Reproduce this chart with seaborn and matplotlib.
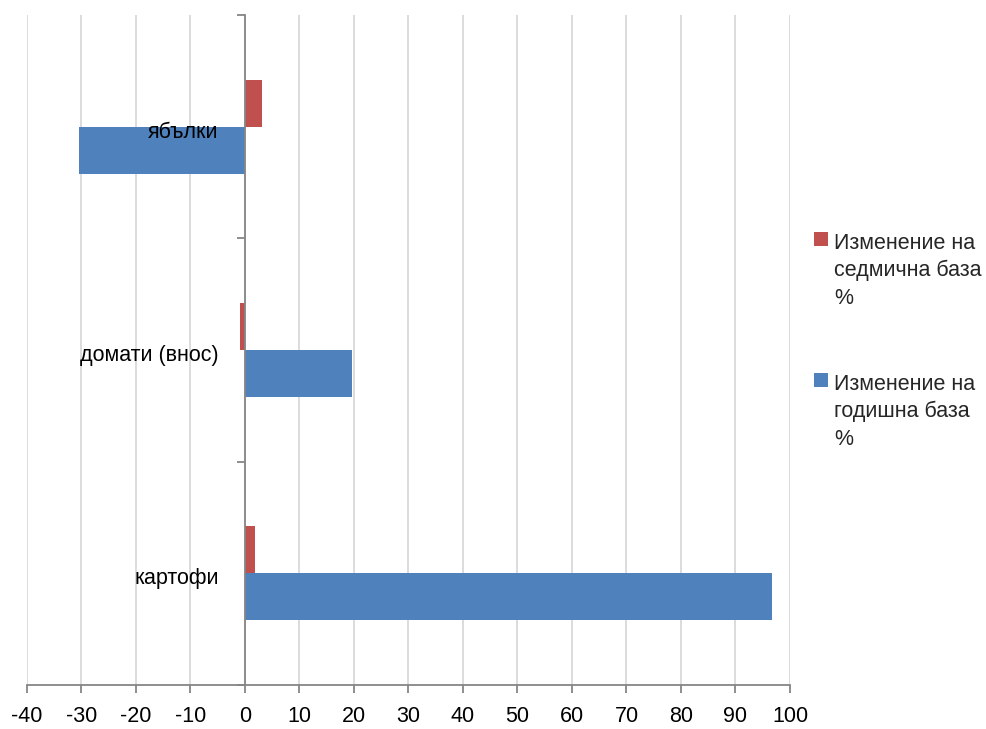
import matplotlib.pyplot as plt
import matplotlib.patches as mpatches
from matplotlib.transforms import offset_copy
import seaborn as sns
import pandas as pd

# Data
categories = ['ябълки', 'домати (внос)', 'картофи']
weekly = [3.1, -0.9, 1.8]      # Изменение на седмична база %
yearly = [-30.4, 19.7, 96.7]   # Изменение на годишна база %
weekly_label = 'Изменение на\nседмична база\n%'
yearly_label = 'Изменение на\nгодишна база\n%'
x_ticks = list(range(-40, 101, 10))

df = pd.DataFrame({
    'category': categories * 2,
    'value': weekly + yearly,
    'series': [weekly_label] * 3 + [yearly_label] * 3,
})

red = '#C0504D'
blue = '#4F81BD'
axis_col = '#868686'
grid_col = '#D9D9D9'

sns.set_theme(style='white')
plt.rcParams['font.family'] = ['Liberation Sans', 'DejaVu Sans']
fs = 15.5

fig = plt.figure(figsize=(9.87, 7.29), dpi=100)
ax = fig.add_axes([27 / 987, 1 - 685 / 729, (790 - 27) / 987, (685 - 15) / 729])

sns.barplot(data=df, x='value', y='category', hue='series', orient='h',
            order=categories, hue_order=[weekly_label, yearly_label],
            palette=[red, blue], width=0.42, legend=False, linewidth=0,
            saturation=1, ax=ax, zorder=3)

ax.set_xlim(-40, 100)
ax.set_ylim(2.5, -0.5)
ax.set_xticks(x_ticks)
ax.set_xticklabels([str(t) for t in x_ticks], fontsize=fs)
ax.set_xlabel('')
ax.set_ylabel('')

# vertical gridlines
ax.grid(axis='x', color=grid_col, linewidth=1.3, zorder=0)
ax.grid(axis='y', visible=False)
ax.set_axisbelow(True)

# category axis sits at zero
for s in ['top', 'right']:
    ax.spines[s].set_visible(False)
ax.spines['left'].set_position(('data', 0))
ax.spines['left'].set_color(axis_col)
ax.spines['left'].set_linewidth(1.3)
ax.spines['bottom'].set_color(axis_col)
ax.spines['bottom'].set_linewidth(1.3)
ax.spines['left'].set_zorder(4)

ax.set_yticks(range(len(categories)))
ax.set_yticklabels([])
ax.set_yticks([-0.5, 0.5, 1.5, 2.5], minor=True)
ax.tick_params(axis='y', which='major', length=0)
ax.tick_params(axis='y', which='minor', length=6, width=1.3, color=axis_col, direction='out', left=True)
ax.tick_params(axis='x', which='major', length=6, width=1.3, color=axis_col, direction='out',
               bottom=True, pad=9, labelcolor='black')

# category labels next to the zero axis, above the bars
lab_tr = offset_copy(ax.transData, fig=fig, x=-19, y=-4, units='points')
for i, cat in enumerate(categories):
    ax.text(0, i, cat, transform=lab_tr, ha='right', va='center', fontsize=fs,
            color='black', zorder=6)

# legend drawn at the right side
entries = [(weekly_label, red, 232), (yearly_label, blue, 373)]
for label, col, ytop in entries:
    fig.patches.append(mpatches.Rectangle((814 / 987, 1 - (ytop + 14) / 729),
                                          14 / 987, 14 / 729, transform=fig.transFigure,
                                          facecolor=col, edgecolor='none'))
    fig.text(834 / 987, 1 - (ytop + 1) / 729, label, fontsize=fs, va='top', ha='left',
             linespacing=1.38)

fig.savefig('out.png', dpi=100)
